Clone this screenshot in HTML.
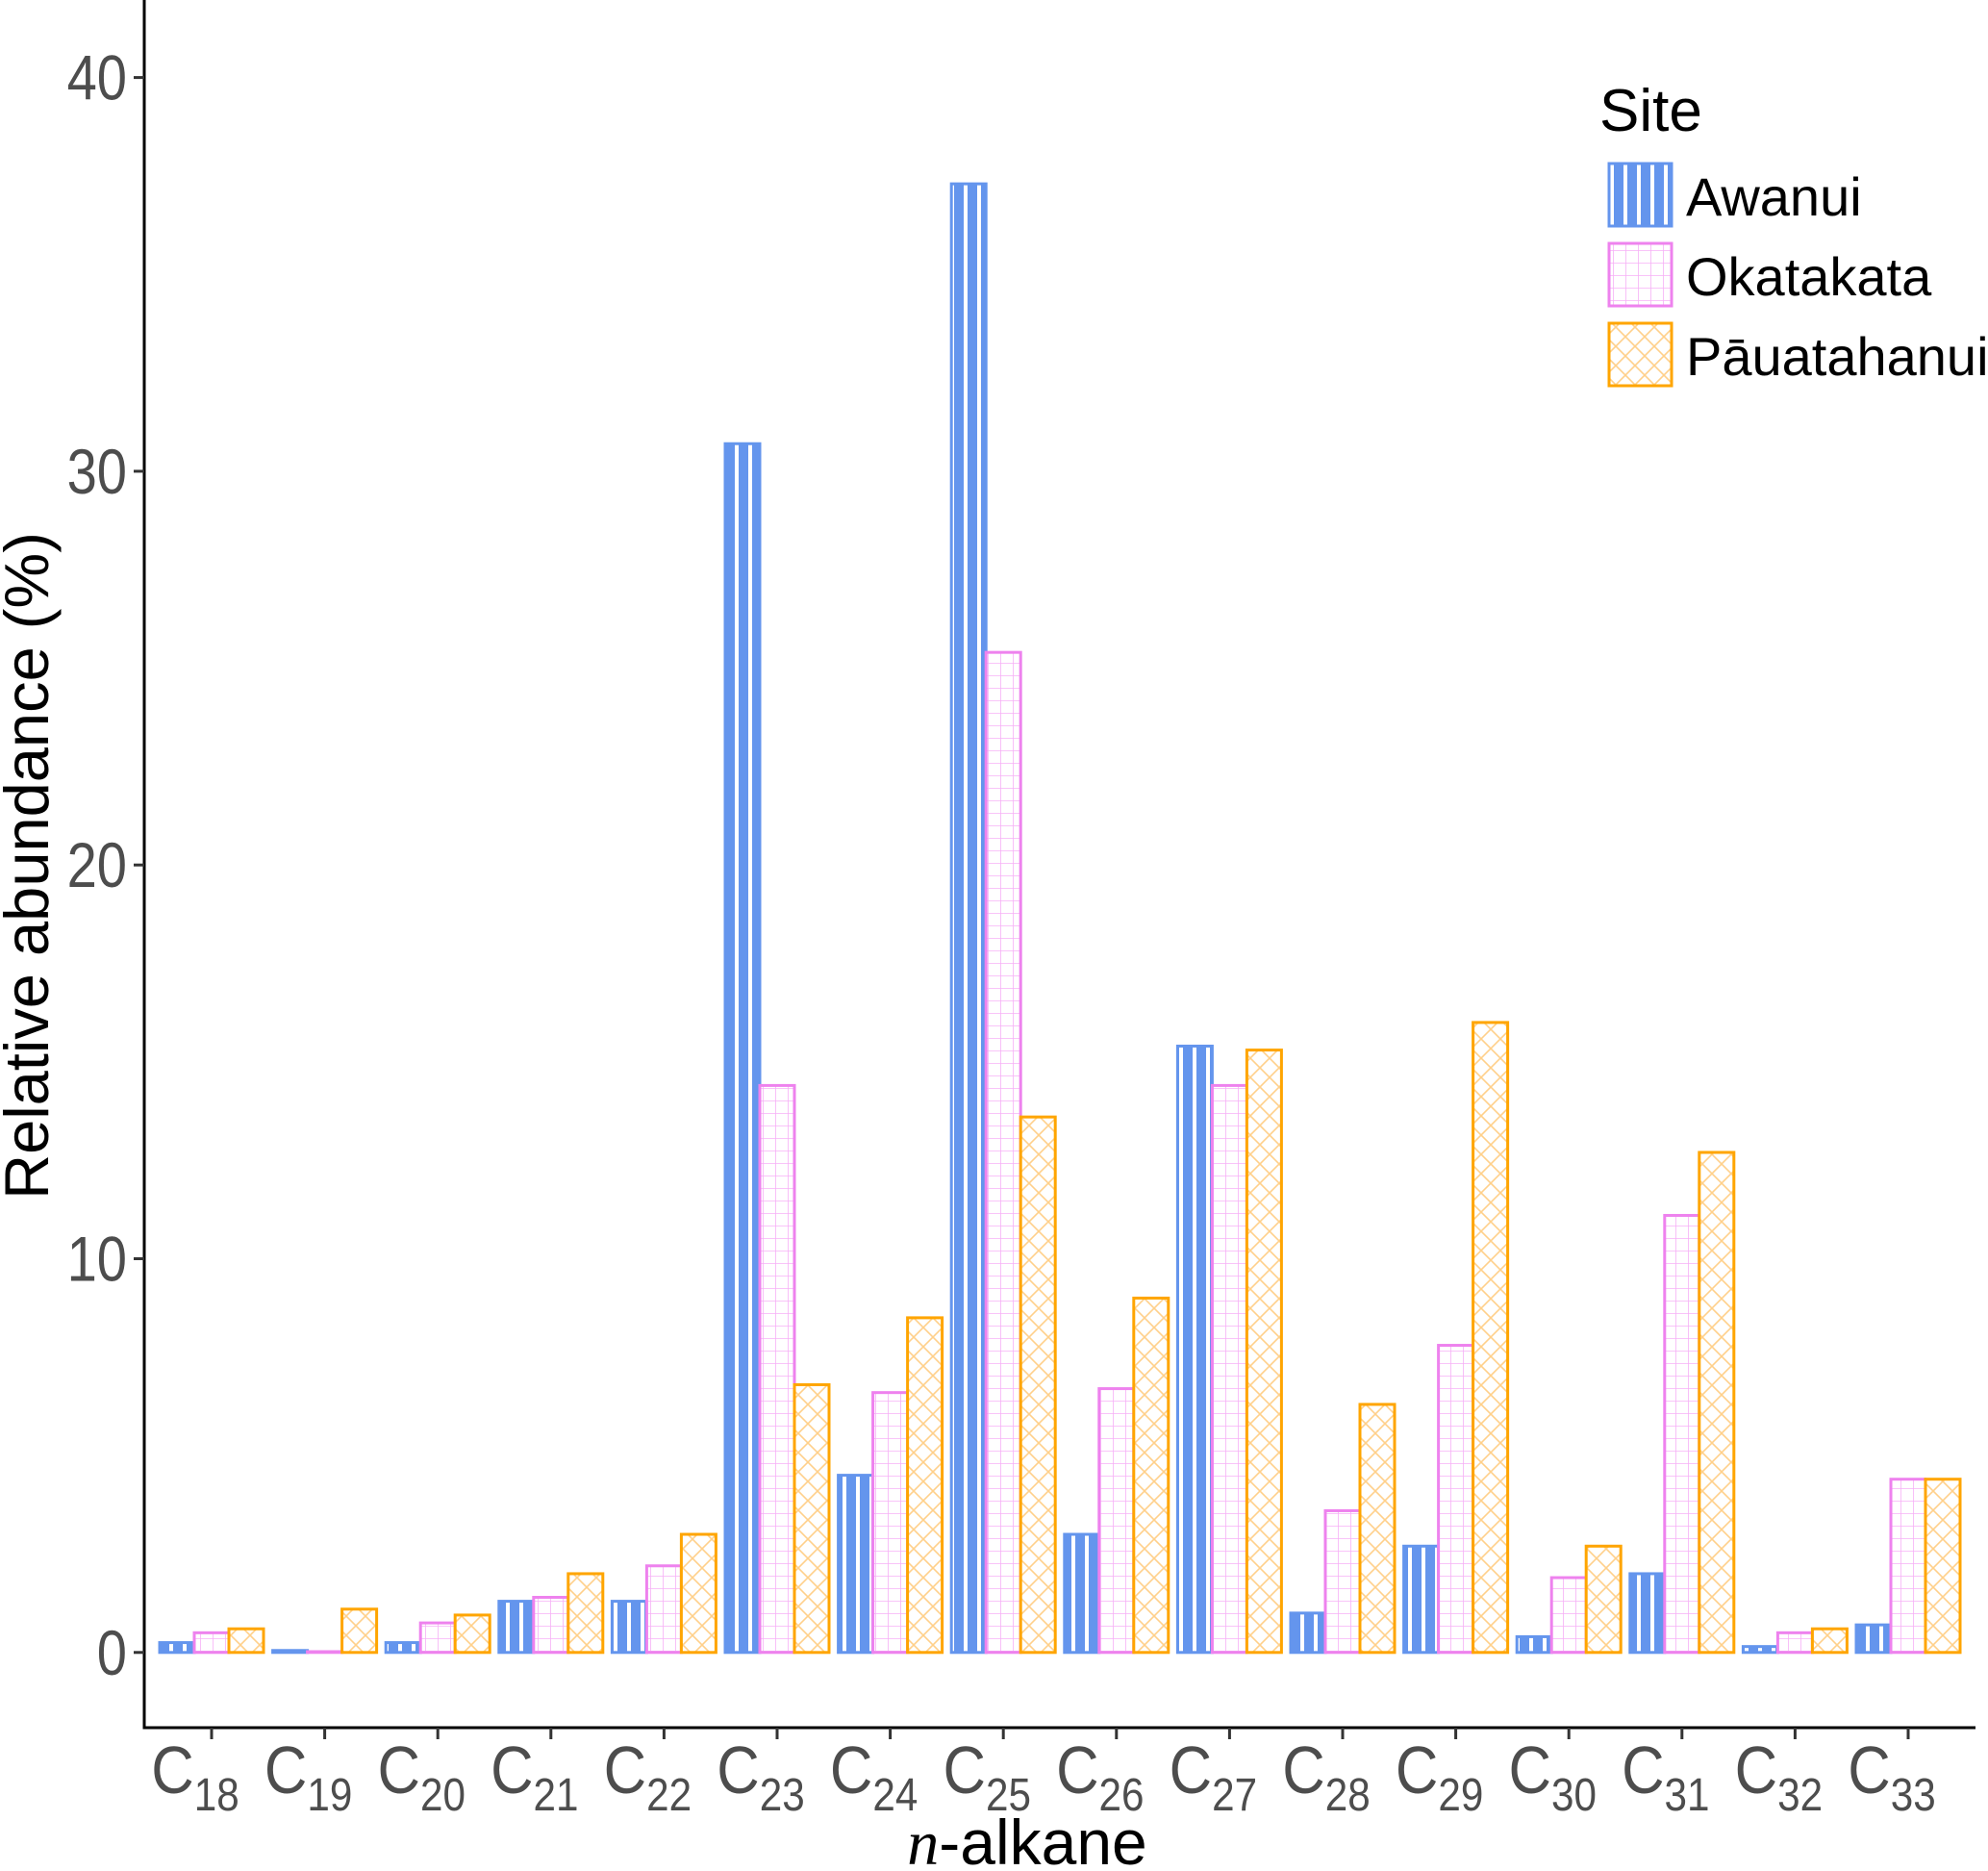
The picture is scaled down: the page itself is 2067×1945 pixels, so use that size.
<!DOCTYPE html>
<html><head><meta charset="utf-8"><style>
html,body{margin:0;padding:0;background:#fff;}
svg{display:block;font-family:"Liberation Sans",sans-serif;}
</style></head><body>
<svg id="chart" width="2067" height="1945" viewBox="0 0 2067 1945" xmlns="http://www.w3.org/2000/svg">
<defs>
<pattern id="pA" patternUnits="userSpaceOnUse" width="14" height="12" x="3"><rect width="14" height="12" fill="#6495ed"/><rect x="5" width="4" height="12" fill="#fff"/></pattern>
<pattern id="pO" patternUnits="userSpaceOnUse" width="13" height="13"><rect width="13" height="13" fill="#fff"/><path d="M0 0H13M0 0V13" stroke="#f7b0f7" stroke-width="1.6"/></pattern>
<pattern id="pP" patternUnits="userSpaceOnUse" width="20" height="20"><rect width="20" height="20" fill="#fff"/><path d="M0 0L20 20M20 0L0 20" stroke="#ffd08a" stroke-width="1.6"/></pattern>
</defs>
<g id="bars"></g>
<g id="axes"></g>
<g>
<text x="1663" y="136" font-size="62" fill="#000">Site</text>
<g><rect x="1673" y="170" width="65" height="65" fill="url(#pA)" stroke="#6495ed" stroke-width="3"/><text x="1753" y="224" font-size="56">Awanui</text></g>
<g><rect x="1673" y="253" width="65" height="65" fill="url(#pO)" stroke="#ee82ee" stroke-width="3"/><text x="1753" y="307" font-size="56">Okatakata</text></g>
<g><rect x="1673" y="336" width="65" height="65" fill="url(#pP)" stroke="#ffa500" stroke-width="3"/><text x="1753" y="390" font-size="56">Pāuatahanui</text></g>
</g>
<text transform="translate(50,900) rotate(-90)" text-anchor="middle" font-size="65" fill="#000">Relative abundance (%)</text>
<text x="1068" y="1938" text-anchor="middle" font-size="66" fill="#000"><tspan font-family="Liberation Serif,serif" font-style="italic">n</tspan>-alkane</text>
</svg>
<script>
const categories=["18","19","20","21","22","23","24","25","26","27","28","29","30","31","32","33"];
const awanui=[0.25,0.05,0.25,1.3,1.3,30.7,4.5,37.3,3.0,15.4,1.0,2.7,0.4,2.0,0.15,0.7];
const okatakata=[0.5,0.02,0.75,1.4,2.2,14.4,6.6,25.4,6.7,14.4,3.6,7.8,1.9,11.1,0.5,4.4];
const pauatahanui=[0.6,1.1,0.95,2.0,3.0,6.8,8.5,13.6,9.0,15.3,6.3,16.0,2.7,12.7,0.6,4.4];
const yTicks=[0,10,20,30,40];
const NS="http://www.w3.org/2000/svg";
const y=v=>1717.8-v*40.93;
const x=i=>220+i*117.6;
const bw=36;
const series=[{d:awanui,f:"url(#pA)",s:"#6495ed",n:"awanui"},{d:okatakata,f:"url(#pO)",s:"#ee82ee",n:"okatakata"},{d:pauatahanui,f:"url(#pP)",s:"#ffa500",n:"pauatahanui"}];
const bars=document.getElementById('bars');
categories.forEach((c,i)=>{
 series.forEach((s,k)=>{
  const v=s.d[i];const r=document.createElementNS(NS,'rect');
  const cx=x(i)+(k-1)*bw;
  r.setAttribute('x',cx-bw/2);r.setAttribute('width',bw);
  r.setAttribute('y',y(v));r.setAttribute('height',Math.max(y(0)-y(v),0.5));
  r.setAttribute('fill',s.f);r.setAttribute('stroke',s.s);r.setAttribute('stroke-width',3);
  
  
  bars.appendChild(r);
 });
});
const ax=document.getElementById('axes');
function add(tag,attrs,txt){const e=document.createElementNS(NS,tag);for(const k in attrs)e.setAttribute(k,attrs[k]);if(txt!==undefined)e.innerHTML=txt;ax.appendChild(e);return e;}
const yl=add('line',{x1:150,y1:0,x2:150,y2:1797,stroke:'#000','stroke-width':3});


const xl=add('line',{x1:148.5,y1:1796,x2:2054,y2:1796,stroke:'#000','stroke-width':3});


yTicks.forEach(t=>{
 const l=add('line',{x1:139,x2:150,y1:y(t),y2:y(t),stroke:'#333','stroke-width':3});
 
 
 const tx=add('text',{transform:'translate(132,'+(y(t)+23)+') scale(0.85,1)','text-anchor':'end','font-size':66,fill:'#4d4d4d'},String(t));
 
 
});
categories.forEach((c,i)=>{
 const l=add('line',{x1:x(i),x2:x(i),y1:1796,y2:1808,stroke:'#333','stroke-width':3});
 
 
 const tx=add('text',{transform:'translate('+(x(i)-17)+',1864) scale(0.88,1)','text-anchor':'middle','font-size':70,fill:'#4d4d4d'},'C<tspan font-size="48" dy="18">'+c+'</tspan>');
 
 
});
</script>
</body></html>
